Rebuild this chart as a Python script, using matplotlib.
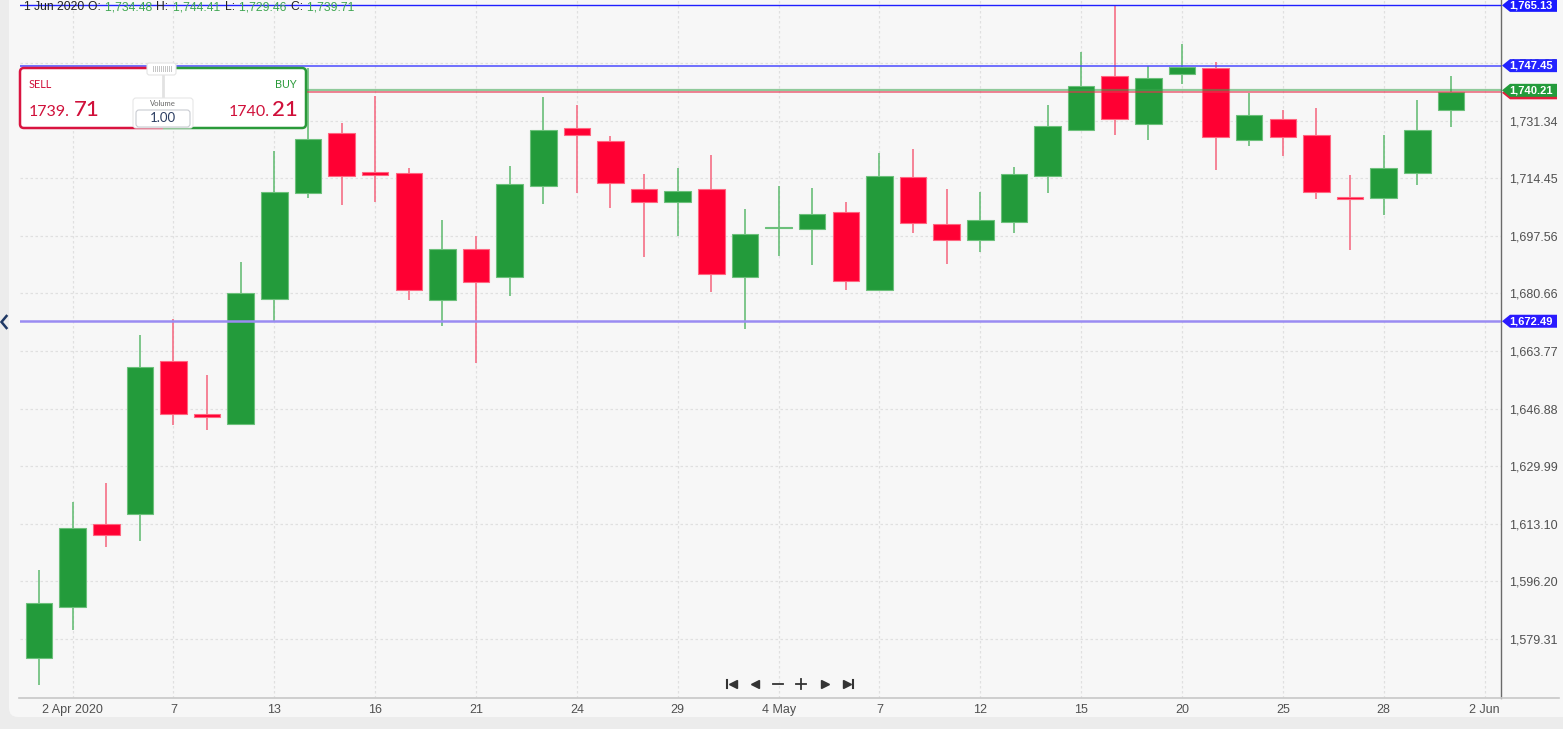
import matplotlib
matplotlib.use("Agg")
import matplotlib.pyplot as plt
import matplotlib.transforms as mtransforms
from matplotlib.patches import FancyBboxPatch, Polygon, Rectangle
from matplotlib.lines import Line2D

# ---------------- data ----------------
dates = ["2020-04-01", "2020-04-02", "2020-04-03", "2020-04-06", "2020-04-07", "2020-04-08",
         "2020-04-09", "2020-04-13", "2020-04-14", "2020-04-15", "2020-04-16", "2020-04-17",
         "2020-04-20", "2020-04-21", "2020-04-22", "2020-04-23", "2020-04-24", "2020-04-27",
         "2020-04-28", "2020-04-29", "2020-04-30", "2020-05-01", "2020-05-04", "2020-05-05",
         "2020-05-06", "2020-05-07", "2020-05-08", "2020-05-11", "2020-05-12", "2020-05-13",
         "2020-05-14", "2020-05-15", "2020-05-18", "2020-05-19", "2020-05-20", "2020-05-21",
         "2020-05-22", "2020-05-25", "2020-05-26", "2020-05-27", "2020-05-28", "2020-05-29",
         "2020-06-01"]
opens = [1573.7, 1588.7, 1613.0, 1616.0, 1660.8, 1645.3, 1642.4, 1679.0, 1710.1, 1727.7,
         1716.2, 1715.9, 1678.7, 1693.7, 1685.5, 1712.1, 1729.1, 1725.3, 1711.3, 1707.5,
         1711.3, 1685.5, 1699.8, 1699.5, 1704.5, 1681.6, 1714.8, 1701.0, 1696.3, 1701.6,
         1715.1, 1728.6, 1744.4, 1730.3, 1745.0, 1746.7, 1725.6, 1731.8, 1727.1, 1708.6,
         1708.6, 1715.9, 1734.48]
highs = [1599.5, 1619.5, 1625.1, 1668.5, 1673.1, 1656.7, 1689.9, 1722.4, 1746.7, 1730.6,
         1738.5, 1717.4, 1702.2, 1697.5, 1718.0, 1738.2, 1735.9, 1726.8, 1715.7, 1717.4,
         1721.2, 1705.4, 1712.1, 1711.5, 1707.5, 1721.8, 1723.0, 1711.3, 1710.4, 1717.7,
         1735.9, 1751.4, 1764.9, 1747.3, 1753.8, 1748.5, 1739.4, 1734.4, 1735.0, 1715.4,
         1727.1, 1737.3, 1744.41]
lows = [1565.8, 1582.0, 1606.3, 1608.0, 1642.1, 1640.6, 1642.1, 1672.6, 1708.6, 1706.6,
        1707.5, 1678.7, 1671.1, 1660.2, 1679.9, 1706.9, 1710.1, 1705.7, 1691.3, 1697.5,
        1681.1, 1670.2, 1691.6, 1689.0, 1681.6, 1681.3, 1698.4, 1689.3, 1692.8, 1698.4,
        1710.1, 1728.3, 1727.1, 1725.6, 1742.0, 1716.8, 1723.9, 1720.9, 1708.3, 1693.4,
        1703.6, 1712.4, 1729.46]
closes = [1589.9, 1611.9, 1609.8, 1659.1, 1645.3, 1644.4, 1680.8, 1710.4, 1725.9, 1715.1,
          1715.4, 1681.6, 1693.7, 1684.0, 1712.7, 1728.6, 1727.1, 1713.0, 1707.5, 1710.7,
          1686.3, 1698.1, 1700.1, 1703.9, 1684.3, 1715.1, 1701.3, 1696.3, 1702.2, 1715.7,
          1729.7, 1741.5, 1731.8, 1743.8, 1747.0, 1726.5, 1733.0, 1726.5, 1710.4, 1708.4,
          1717.4, 1728.6, 1739.71]

xtick_pos = [1, 4, 7, 10, 13, 16, 19, 22, 25, 28, 31, 34, 37, 40, 43]
xtick_labels = ["2 Apr 2020", "7", "13", "16", "21", "24", "29", "4 May", "7", "12",
                "15", "20", "25", "28", "2 Jun"]
ytick_vals = [1579.31, 1596.20, 1613.10, 1629.99, 1646.88, 1663.77, 1680.66, 1697.56,
              1714.45, 1731.34, 1748.23]

level_high = 1765.13
level_mid = 1747.45
level_low = 1672.49
bid = 1739.71
ask = 1740.21

header_date = "1 Jun 2020"
header_vals = [("O: ", "1,734.48"), ("H: ", "1,744.41"), ("L: ", "1,729.46"), ("C: ", "1,739.71")]

# ---------------- figure ----------------
W, H = 1563, 729
fig = plt.figure(figsize=(W / 100, H / 100), dpi=100)
fig.patch.set_facecolor("#ececec")

pix = mtransforms.Affine2D().scale(1 / W, -1 / H).translate(0, 1) + fig.transFigure

panel = FancyBboxPatch((9, -30), W + 40, 717 + 30, boxstyle="round,pad=0,rounding_size=9",
                       transform=pix, facecolor="#f7f7f7", edgecolor="none", zorder=-10)
fig.add_artist(panel)

ax_l, ax_r, ax_t, ax_b = 20, 1501, 0, 698
ax = fig.add_axes([ax_l / W, 1 - ax_b / H, (ax_r - ax_l) / W, (ax_b - ax_t) / H])
ax.set_facecolor("none")

n = len(dates)
assert len(opens) == len(highs) == len(lows) == len(closes) == n
xs = list(range(n))

ymin, ymax = 1562.0, 1766.7
ax.set_xlim(-0.565, 43.49)
ax.set_ylim(ymin, ymax)
upp = (ymax - ymin) / (ax_b - ax_t)  # price units per pixel

green, red = "#239b3b", "#ff0033"
green_w, red_w = "#5cb96d", "#f5637c"
green_e, red_e = "#6cc07b", "#ff6680"

# grid
for xp in xtick_pos:
    ax.axvline(xp, color="#e0e0e0", lw=0.9, ls=(0, (2, 2)), zorder=0)
for yv in ytick_vals:
    ax.axhline(yv, color="#e0e0e0", lw=0.9, ls=(0, (2, 2)), zorder=0)

# candles
width = 0.79
for i in xs:
    o, h, l, c = opens[i], highs[i], lows[i], closes[i]
    up = c >= o
    col = green if up else red
    wc = green_w if up else red_w
    ec = green_e if up else red_e
    ax.vlines(i, l, h, color=wc, lw=1.1, zorder=2)
    bot = min(o, c)
    hgt = max(abs(c - o), 0.45)
    ax.bar(i, hgt, width=width, bottom=bot, color=col, edgecolor=ec, linewidth=0.8, zorder=3)

# level lines
ax.axhline(level_high, color="#1f1fff", lw=1.0, zorder=4)
ax.axhline(level_mid, color="#4a4aff", lw=1.1, zorder=4)
ax.axhline(level_low, color="#9a8cf2", lw=1.8, zorder=4)
ax.axhline(ask, color="#3aa64f", lw=1.6, alpha=0.55, zorder=4)
ax.axhline(bid, color="#e8334f", lw=1.4, alpha=0.6, zorder=4)

# axes styling
for s in ["top", "left", "bottom"]:
    ax.spines[s].set_visible(False)
ax.spines["right"].set_color("#6a6a6a")
ax.spines["right"].set_linewidth(1.0)
ax.yaxis.tick_right()
ax.set_yticks(ytick_vals)
ax.set_yticklabels([f"{v:,.2f}" for v in ytick_vals])
ax.set_xticks(xtick_pos)
ax.set_xticklabels(xtick_labels)
ax.tick_params(axis="y", length=0, pad=6, labelsize=9, labelcolor="#505050")
ax.tick_params(axis="x", length=0, pad=4, labelsize=9, labelcolor="#505050")
for lab in ax.get_xticklabels() + ax.get_yticklabels():
    lab.set_fontfamily("Liberation Sans")

# bottom axis line across
fig.add_artist(Line2D([19, 1559], [698, 698], transform=pix, color="#c8c8c8", lw=1.2, zorder=1))

# price tags on the right
blend = mtransforms.blended_transform_factory(pix, ax.transData)


def tag(value, color, shadow=None):
    hh = 6.5 * upp
    pts = [(1502, value), (1510, value + hh), (1557, value + hh), (1557, value - hh), (1510, value - hh)]
    if shadow:
        sh = [(x, y - 2.5 * upp) for x, y in pts]
        fig.add_artist(Polygon(sh, closed=True, transform=blend, facecolor=shadow,
                               edgecolor="none", zorder=6))
    fig.add_artist(Polygon(pts, closed=True, transform=blend, facecolor=color,
                           edgecolor="none", zorder=7))
    fig.text(1531, value, f"{value:,.2f}", transform=blend, ha="center", va="center",
             fontsize=8, fontweight="bold", color="white", family="Liberation Sans", zorder=8)


tag(level_high, "#1a1aff")
tag(level_mid, "#2424ff")
tag(ask, "#239b3b", shadow="#e0203c")
tag(level_low, "#2a1aff")

# header text
hx = 24
fs_h = 8.7
t = fig.text(hx, 10, header_date + " ", transform=pix, ha="left", va="baseline",
             fontsize=fs_h, color="#222222", family="Liberation Sans", zorder=9)
renderer = fig.canvas.get_renderer()


def adv(txt_artist):
    bb = txt_artist.get_window_extent(renderer=renderer)
    return bb.width * W / fig.bbox.width


x = hx + adv(t)
for lbl, val in header_vals:
    t1 = fig.text(x, 10, lbl, transform=pix, ha="left", va="baseline", fontsize=fs_h,
                  color="#222222", family="Liberation Sans", zorder=9)
    x += adv(t1) + 1
    t2 = fig.text(x, 10, val + " ", transform=pix, ha="left", va="baseline", fontsize=fs_h,
                  color="#3fa653", family="Liberation Sans", zorder=9)
    x += adv(t2) + 1

# left arrow (chevron)
fig.add_artist(Line2D([6.5, 1.5, 6.5], [316, 322, 328], transform=pix, color="#1f3864",
                      lw=1.8, zorder=9, solid_joinstyle="miter"))

# SELL / BUY widget
bx0, by0, bx1, by1 = 20, 68, 306, 128
fill = FancyBboxPatch((bx0, by0), bx1 - bx0, by1 - by0, boxstyle="round,pad=0,rounding_size=4",
                      transform=pix, facecolor="white", edgecolor="none", zorder=10)
fig.add_artist(fill)
redb = FancyBboxPatch((bx0, by0), bx1 - bx0, by1 - by0, boxstyle="round,pad=0,rounding_size=4",
                      transform=pix, facecolor="none", edgecolor="#d91440", lw=1.8, zorder=11)
greenb = FancyBboxPatch((bx0, by0), bx1 - bx0, by1 - by0, boxstyle="round,pad=0,rounding_size=4",
                        transform=pix, facecolor="none", edgecolor="#2a9a3a", lw=1.8, zorder=11)
clip_l = Rectangle((0, 0), 163, 200, transform=pix)
clip_r = Rectangle((163, 0), 400, 200, transform=pix)
fig.add_artist(redb)
fig.add_artist(greenb)
redb.set_clip_path(clip_l)
greenb.set_clip_path(clip_r)

sell_c = "#d0103a"
fig.text(29, 84, "SELL", transform=pix, ha="left", va="center", fontsize=7.8, color=sell_c,
         family="Lato", zorder=12)
fig.text(297, 84, "BUY", transform=pix, ha="right", va="center", fontsize=7.8, color="#2a9a3a",
         family="Lato", zorder=12)
fig.text(29, 116, "1739.", transform=pix, ha="left", va="baseline", fontsize=11.5, color=sell_c,
         family="Lato", zorder=12)
fig.text(74, 116, "71", transform=pix, ha="left", va="baseline", fontsize=16, color=sell_c,
         family="Lato", fontweight="medium", zorder=12)
fig.text(270, 116, "1740.", transform=pix, ha="right", va="baseline", fontsize=11.5, color=sell_c,
         family="Lato", zorder=12)
fig.text(298, 116, "21", transform=pix, ha="right", va="baseline", fontsize=16, color=sell_c,
         family="Lato", fontweight="medium", zorder=12)

# connector + handle
fig.add_artist(Line2D([162.5, 162.5], [75, 98], transform=pix, color="#e2e2e2", lw=2, zorder=12))
handle = FancyBboxPatch((147, 63), 29, 12, boxstyle="round,pad=0,rounding_size=2.5", transform=pix,
                        facecolor="white", edgecolor="#e4e4e4", lw=0.8, zorder=13)
fig.add_artist(handle)
for k in range(10):
    xx = 153 + k * 2
    fig.add_artist(Line2D([xx, xx], [66.5, 71.5], transform=pix, color="#c4c4c4", lw=0.7, zorder=14))

# volume box
vol = FancyBboxPatch((133, 98), 60, 30, boxstyle="round,pad=0,rounding_size=3", transform=pix,
                     facecolor="white", edgecolor="#e6e6e6", lw=0.8, zorder=13)
fig.add_artist(vol)
inp = FancyBboxPatch((136, 110), 54, 17, boxstyle="round,pad=0,rounding_size=3", transform=pix,
                     facecolor="white", edgecolor="#c9ccd2", lw=0.8, zorder=14)
fig.add_artist(inp)
fig.text(163, 104, "Volume", transform=pix, ha="center", va="center", fontsize=5.5, color="#666666",
         family="Lato", zorder=15)
fig.text(163, 118.5, "1.00", transform=pix, ha="center", va="center", fontsize=9.5, color="#2c3e63",
         family="Lato", zorder=15)

# navigation buttons
nav_y = 684
nc = "#333333"
ms = 6
fig.add_artist(Line2D([733], [nav_y], transform=pix, marker="<", markersize=ms, color=nc, lw=0, zorder=9))
fig.add_artist(Line2D([727, 727], [nav_y - 4, nav_y + 4], transform=pix, color=nc, lw=1.5, zorder=9))
fig.add_artist(Line2D([755], [nav_y], transform=pix, marker="<", markersize=ms, color=nc, lw=0, zorder=9))
fig.add_artist(Line2D([773, 783], [nav_y, nav_y], transform=pix, color=nc, lw=1.3, zorder=9))
fig.add_artist(Line2D([796, 806], [nav_y, nav_y], transform=pix, color=nc, lw=1.3, zorder=9))
fig.add_artist(Line2D([801, 801], [nav_y - 5, nav_y + 5], transform=pix, color=nc, lw=1.3, zorder=9))
fig.add_artist(Line2D([825], [nav_y], transform=pix, marker=">", markersize=ms, color=nc, lw=0, zorder=9))
fig.add_artist(Line2D([847], [nav_y], transform=pix, marker=">", markersize=ms, color=nc, lw=0, zorder=9))
fig.add_artist(Line2D([853, 853], [nav_y - 4, nav_y + 4], transform=pix, color=nc, lw=1.5, zorder=9))

fig.savefig("out.png", dpi=100, facecolor=fig.get_facecolor())
